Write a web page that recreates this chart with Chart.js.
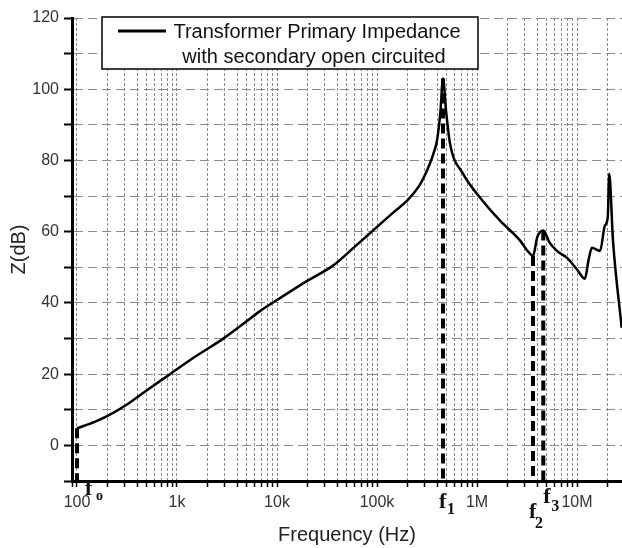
<!DOCTYPE html>
<html lang="en">
<head>
<meta charset="UTF-8">
<title>Transformer primary impedance</title>
<script src="https://cdn.jsdelivr.net/npm/chart.js"></script>
<style>
  body { margin: 0; background: #fff; }
  #wrap { width: 622px; height: 548px; }
</style>
</head>
<body>
<div id="wrap"><canvas id="myChart"></canvas></div>
<script>
// impedance curve (Hz, dB)
const freqHz = [100, 150, 200, 316, 500, 851, 1500, 2880, 5000, 6760, 10000, 20000, 36000, 60000, 91000,
  150000, 200000, 263000, 300000, 339000, 370000, 398000, 430000, 457000, 490000, 537000, 724000, 1070000, 1700000,
  2700000, 3200000, 3630000, 4000000, 4600000, 5300000, 6300000, 7900000, 10000000, 12000000,
  13000000, 14100000, 17000000, 19000000, 20300000, 21000000, 22900000, 28000000];
const zDb = [4.8, 6.6, 8.2, 11.5, 15.5, 20, 24.8, 29.9, 34.9, 37.7, 40.8, 46.2, 50.4, 55.8, 60.3,
  65.7, 68.7, 72.8, 75.8, 79.2, 82.3, 85.6, 93.5, 103, 94, 84.8, 76.3, 69.6, 63.1,
  57.5, 54.6, 53.2, 58.4, 60.3, 57, 54.6, 52.7, 49.4, 46.8,
  51.8, 55.5, 54.6, 61.7, 64, 76.3, 57.5, 33];

// resonance markers f0..f3
const markerFreq = [100, 457000, 3630000, 4600000];
const markerTop = [4.8, 103, 53.2, 60.3];
const markerSub = ['o', '1', '2', '3'];

// axis ticks
const majorTickValues = [100, 1000, 10000, 100000, 1000000, 10000000];
const majorTickLabels = ['100', '1k', '10k', '100k', '1M', '10M'];

const legendLines = ['Transformer Primary Impedance', 'with secondary open circuited'];

const sans = '"Liberation Sans", Arial, sans-serif';
const serif = '"Liberation Serif", "Times New Roman", serif';

const markerSets = markerFreq.map((f, i) => ({
  data: [{x: f, y: markerTop[i]}, {x: f, y: -10}],
  borderColor: '#000',
  borderWidth: 4,
  borderDash: [10, 5],
  pointRadius: 0
}));

// legend box and f labels
const overlay = {
  id: 'overlay',
  afterDraw(chart) {
    const ctx = chart.ctx;
    const x = chart.scales.x;
    ctx.save();
    ctx.fillStyle = '#fff';
    ctx.fillRect(102, 17, 376, 52);
    ctx.strokeStyle = '#000';
    ctx.lineWidth = 1.5;
    ctx.strokeRect(102, 17, 376, 52);
    ctx.lineWidth = 3;
    ctx.beginPath();
    ctx.moveTo(118, 31);
    ctx.lineTo(166, 31);
    ctx.stroke();
    ctx.fillStyle = '#111';
    ctx.font = '20px ' + sans;
    ctx.textAlign = 'center';
    ctx.textBaseline = 'middle';
    ctx.fillText(legendLines[0], 317, 32);
    ctx.fillText(legendLines[1], 314, 57);

    const fDx = [8, -4, -4, 0], fBase = [495, 508, 518, 503];
    const sDx = [19, 4, 2, 8], sBase = [500, 514, 528, 511];
    ctx.textAlign = 'left';
    ctx.textBaseline = 'alphabetic';
    markerFreq.forEach((f, i) => {
      const px = x.getPixelForValue(f);
      ctx.font = 'bold 22px ' + serif;
      ctx.fillText('f', px + fDx[i], fBase[i]);
      ctx.font = (i === 0 ? 'bold 14px ' : 'bold 16px ') + serif;
      ctx.fillText(markerSub[i], px + sDx[i], sBase[i]);
    });
    ctx.restore();
  }
};

const ctx = document.getElementById('myChart').getContext('2d');
new Chart(ctx, {
  type: 'line',
  data: {
    datasets: [
      ...markerSets,
      {
        label: legendLines.join(' '),
        data: freqHz.map((f, i) => ({x: f, y: zDb[i]})),
        borderColor: '#000',
        borderWidth: 2.5,
        pointRadius: 0,
        cubicInterpolationMode: 'monotone'
      }
    ]
  },
  options: {
    responsive: true,
    maintainAspectRatio: false,
    animation: false,
    layout: { padding: { top: 18, right: 0, left: 0, bottom: 0 } },
    plugins: { legend: { display: false }, tooltip: { enabled: false } },
    scales: {
      x: {
        type: 'logarithmic',
        min: 89.13,
        max: 28180000,
        afterBuildTicks: axis => {
          const vals = [];
          for (let e = 1; e <= 7; e++) {
            for (let m = 1; m <= 9; m++) {
              const v = m * Math.pow(10, e);
              if (v >= axis.min && v <= axis.max) vals.push(v);
            }
          }
          axis.ticks = vals.map(v => ({value: v}));
        },
        afterFit: axis => { axis.height = 67; },
        ticks: {
          autoSkip: false,
          maxRotation: 0,
          padding: 6,
          color: '#333',
          font: { family: sans, size: 16 },
          callback: value => {
            const i = majorTickValues.indexOf(value);
            return i >= 0 ? majorTickLabels[i] : '';
          }
        },
        grid: {
          color: '#8a8a8a',
          lineWidth: 1,
          tickColor: '#000',
          tickWidth: 1.5,
          tickLength: 6,
          tickBorderDash: []
        },
        border: { color: '#000', width: 3, dash: [3, 2] },
        title: {
          display: true,
          text: 'Frequency (Hz)',
          color: '#222',
          font: { family: sans, size: 20 },
          padding: { top: 0, bottom: 1 }
        }
      },
      y: {
        min: -10,
        max: 120,
        afterFit: axis => { axis.width = 72; },
        ticks: {
          stepSize: 10,
          padding: 5,
          color: '#333',
          font: { family: sans, size: 16 },
          callback: v => (v % 20 === 0 ? String(v) : '')
        },
        grid: {
          color: '#8a8a8a',
          lineWidth: 1,
          tickColor: '#000',
          tickWidth: 2,
          tickLength: 8,
          tickBorderDash: []
        },
        border: { color: '#000', width: 3, dash: [9, 5] },
        title: {
          display: true,
          text: 'Z(dB)',
          color: '#222',
          font: { family: sans, size: 20 },
          padding: { top: 7, bottom: 0 }
        }
      }
    }
  },
  plugins: [overlay]
});
</script>
</body>
</html>
